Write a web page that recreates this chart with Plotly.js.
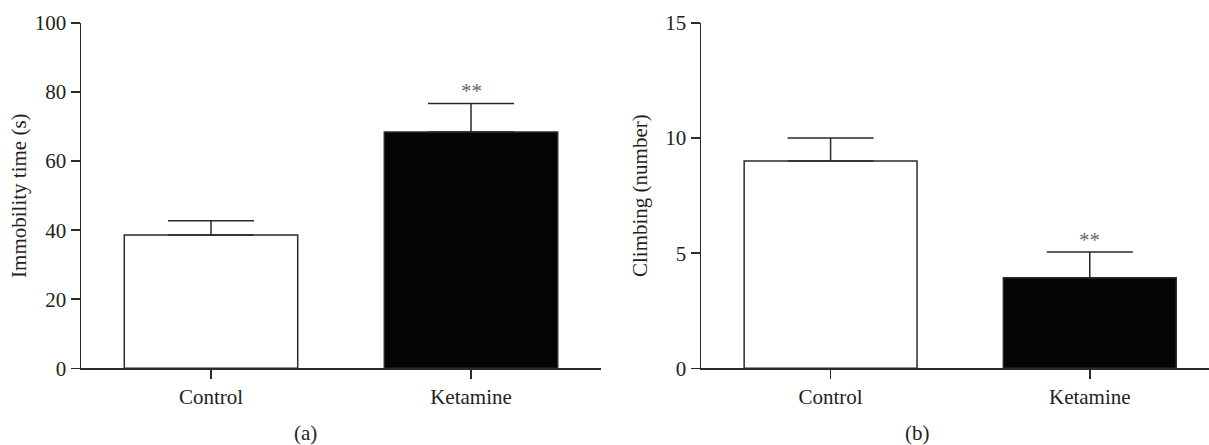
<!DOCTYPE html>
<html>
<head>
<meta charset="utf-8">
<script src="https://cdn.plot.ly/plotly-3.0.1.min.js"></script>
<style>html,body{margin:0;padding:0;background:#fff;}#chart{width:1209px;height:445px;}</style>
</head>
<body>
<div id="chart"></div>
<script>
// Data
const categories = ['Control', 'Ketamine'];
const immobilityMean = [38.6, 68.4];
const immobilityErr = [4.1, 8.3];
const climbingMean = [9.0, 3.93];
const climbingErr = [1.0, 1.12];
const significance = ['', '**'];
const climbingSignificance = ['', '**'];
const panelLabels = ['(a)', '(b)'];

const W = 1209, H = 445;
const FONT = '"Liberation Serif", "DejaVu Serif", serif';
const TXT = '#231f20';
const LINE = '#2a2a2a';
const barColors = ['#ffffff', '#050505'];
const FS = 21;

function barTrace(vals, errs, xa, ya) {
  return {
    type: 'bar', x: categories, y: vals, xaxis: xa, yaxis: ya,
    width: 0.667,
    marker: {color: barColors, line: {color: LINE, width: 1.5}},
    error_y: {type: 'data', array: errs, arrayminus: errs.map(() => 0), symmetric: false,
              color: LINE, thickness: 1.5, width: 43},
    hoverinfo: 'skip', showlegend: false
  };
}

const px = v => v / W, py = v => 1 - v / H;

const xCommon = {
  type: 'category', categoryorder: 'array', categoryarray: categories,
  showline: true, linecolor: LINE, linewidth: 1.5, ticks: 'outside', ticklen: 9,
  tickwidth: 1.5, tickcolor: LINE, showgrid: false, zeroline: false,
  tickfont: {family: FONT, size: FS, color: TXT}, fixedrange: true
};
const yCommon = {
  showline: true, linecolor: LINE, linewidth: 1.5, ticks: 'outside', ticklen: 9,
  tickwidth: 1.5, tickcolor: LINE, showgrid: false, zeroline: false,
  tickfont: {family: FONT, size: FS, color: TXT}, fixedrange: true
};

const yDomain = [py(368.3), py(23)];

const starFont = {family: FONT, size: 21, color: '#666'};
const annotations = [];
significance.forEach((s, i) => {
  if (!s) return;
  annotations.push({xref: 'x', yref: 'y', x: categories[i], y: immobilityMean[i] + immobilityErr[i],
    text: s, showarrow: false, yanchor: 'bottom', yshift: -2, font: starFont});
});
climbingSignificance.forEach((s, i) => {
  if (!s) return;
  annotations.push({xref: 'x2', yref: 'y2', x: categories[i], y: climbingMean[i] + climbingErr[i],
    text: s, showarrow: false, yanchor: 'bottom', yshift: -2, font: starFont});
});
annotations.push({xref: 'paper', yref: 'paper', x: px(305), y: py(433), text: panelLabels[0],
  showarrow: false, xanchor: 'center', yanchor: 'middle', font: {family: FONT, size: FS, color: TXT}});
annotations.push({xref: 'paper', yref: 'paper', x: px(918), y: py(433), text: panelLabels[1],
  showarrow: false, xanchor: 'center', yanchor: 'middle', font: {family: FONT, size: FS, color: TXT}});

const layout = {
  width: W, height: H,
  margin: {l: 0, r: 0, t: 0, b: 0},
  paper_bgcolor: '#fff', plot_bgcolor: 'rgba(0,0,0,0)',
  font: {family: FONT, color: TXT},
  bargap: 0,
  xaxis: Object.assign({}, xCommon, {domain: [px(81), px(601)], range: [-0.5, 1.5], anchor: 'y'}),
  yaxis: Object.assign({}, yCommon, {domain: yDomain, range: [0, 100], dtick: 20, anchor: 'x',
    title: {text: 'Immobility time (s)', font: {family: FONT, size: FS, color: TXT}, standoff: 2}}),
  xaxis2: Object.assign({}, xCommon, {domain: [px(701), 1], range: [-0.5, 1.46], anchor: 'y2'}),
  yaxis2: Object.assign({}, yCommon, {domain: yDomain, range: [0, 15], dtick: 5, anchor: 'x2',
    title: {text: 'Climbing (number)', font: {family: FONT, size: FS, color: TXT}, standoff: 12}}),
  annotations: annotations
};

Plotly.newPlot('chart', [
  barTrace(immobilityMean, immobilityErr, 'x', 'y'),
  barTrace(climbingMean, climbingErr, 'x2', 'y2')
], layout, {displayModeBar: false, staticPlot: true});
</script>
</body>
</html>
